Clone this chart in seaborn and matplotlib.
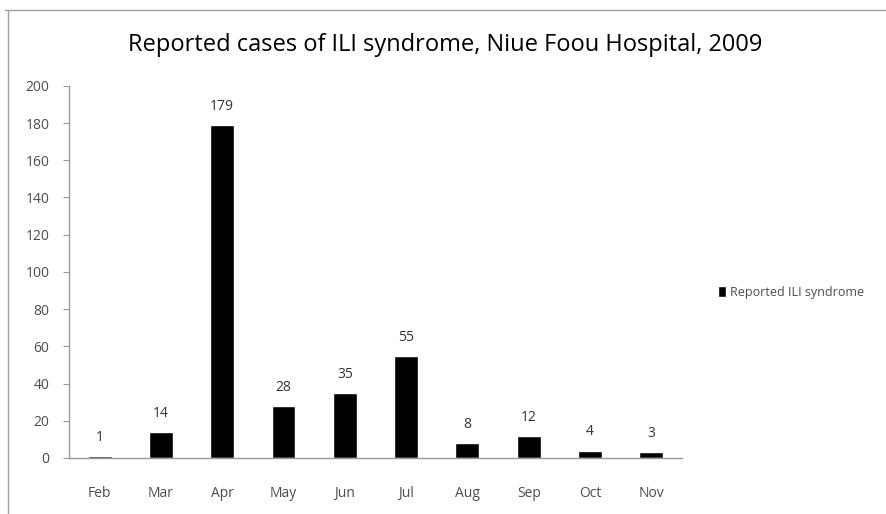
import matplotlib
matplotlib.use('Agg')
import matplotlib.pyplot as plt
from matplotlib.lines import Line2D
from matplotlib.ticker import FixedLocator, MultipleLocator
import pandas as pd
import seaborn as sns

# ── Data ─────────────────────────────────────────────────────────────────────
MONTHS = ['Feb', 'Mar', 'Apr', 'May', 'Jun', 'Jul', 'Aug', 'Sep', 'Oct', 'Nov']
CASES  = [1, 14, 179, 28, 35, 55, 8, 12, 4, 3]
SERIES = 'Reported ILI syndrome'
TITLE  = 'Reported cases of ILI syndrome, Niue Foou Hospital, 2009'

AXIS_GREY = '#9a9a9a'
TEXT_GREY = '#4d4d4d'

sns.set_style('white')
plt.rcParams['font.family'] = ['Open Sans', 'DejaVu Sans']

df = pd.DataFrame({'month': MONTHS, 'cases': CASES})

fig = plt.figure(figsize=(8.87, 5.14), dpi=100)
ax = fig.add_axes([0.0778, 0.109, 0.691, 0.724])

sns.barplot(data=df, x='month', y='cases', color='black', width=0.39,
            label=SERIES, ax=ax, saturation=1)

ax.bar_label(ax.containers[0], padding=8, fontsize=10, color='#333333')

ax.set_ylim(0, 200)
ax.set_xlim(-0.5, len(MONTHS) - 0.5)
ax.yaxis.set_major_locator(MultipleLocator(20))
ax.set_xlabel('')
ax.set_ylabel('')

for side in ['top', 'right']:
    ax.spines[side].set_visible(False)
for side in ['left', 'bottom']:
    ax.spines[side].set_color(AXIS_GREY)
    ax.spines[side].set_linewidth(1.0)

# Excel-style: tick marks between categories, labels centred under bars
ax.tick_params(axis='x', which='major', length=0, pad=20, labelsize=10,
               labelcolor=TEXT_GREY)
ax.xaxis.set_minor_locator(FixedLocator([i + 0.5 for i in range(-1, len(MONTHS))]))
ax.tick_params(axis='x', which='minor', length=5, color=AXIS_GREY, direction='out')
ax.tick_params(axis='y', length=4, color=AXIS_GREY, labelsize=10,
               labelcolor=TEXT_GREY, pad=10, left=True)

ax.legend(loc='center left', bbox_to_anchor=(1.04, 0.445), frameon=False,
          fontsize=9, labelcolor=TEXT_GREY, handlelength=0.7, handleheight=0.9,
          handletextpad=0.3)

fig.text(0.502, 0.912, TITLE, ha='center', va='center', fontsize=17, color='black')

# chart-area frame (clipped at the image edges)
fig.add_artist(Line2D([0.006, 1.0], [0.981, 0.981], color='#a0a0a0', lw=1.0))
fig.add_artist(Line2D([0.009, 0.009], [0.0, 0.981], color='#a0a0a0', lw=1.0))

fig.savefig('out.png', dpi=100)
